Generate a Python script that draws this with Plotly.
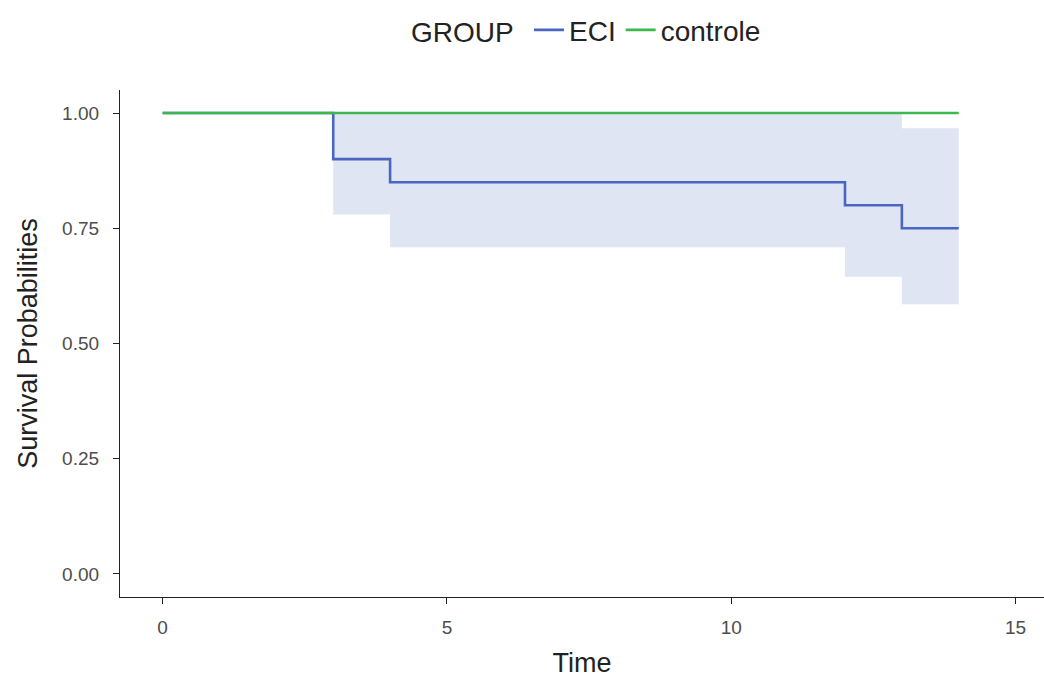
import plotly.graph_objects as go

# Data
time_eci = [0, 3, 4, 12, 13, 14]
surv_eci = [1.0, 0.90, 0.85, 0.80, 0.75, 0.75]
upper_eci = [1.0, 1.0, 1.0, 1.0, 0.967, 0.967]
lower_eci = [1.0, 0.780, 0.709, 0.645, 0.585, 0.585]

time_ctrl = [0, 14]
surv_ctrl = [1.0, 1.0]

x_ticks = [0, 5, 10, 15]
y_ticks = [0, 0.25, 0.5, 0.75, 1.0]

BLUE = "#4A66C3"
GREEN = "#3DB84F"
BAND = "rgba(90,115,190,0.19)"
FONT = "Liberation Sans"

fig = go.Figure()
fig.add_trace(go.Scatter(x=time_eci, y=upper_eci, mode="lines", line=dict(width=0, shape="hv"),
                         showlegend=False, hoverinfo="skip"))
fig.add_trace(go.Scatter(x=time_eci, y=lower_eci, mode="lines", line=dict(width=0, shape="hv"),
                         fill="tonexty", fillcolor=BAND, showlegend=False, hoverinfo="skip"))
fig.add_trace(go.Scatter(x=time_eci, y=surv_eci, mode="lines", name="ECI",
                         line=dict(color=BLUE, width=2.6, shape="hv")))
fig.add_trace(go.Scatter(x=time_ctrl, y=surv_ctrl, mode="lines", name="controle",
                         line=dict(color=GREEN, width=2.6, shape="hv")))

fig.update_layout(
    width=1044, height=678,
    margin=dict(l=120, r=0, t=90, b=81),
    paper_bgcolor="white", plot_bgcolor="white",
    font=dict(family=FONT, color="#222"),
    legend=dict(orientation="h", x=0.506, xanchor="center", y=1.118, yanchor="middle",
                traceorder="normal",
                title=dict(text="GROUP ", side="left", font=dict(size=28, color="#222")),
                font=dict(size=28, color="#222"), itemwidth=30),
    showlegend=True,
)
fig.update_xaxes(range=[-0.75, 15.5], tickvals=x_ticks, showline=True, linecolor="#222", linewidth=1.3,
                 ticks="outside", ticklen=6, tickcolor="#222", tickwidth=1.3, showgrid=False, zeroline=False,
                 tickfont=dict(size=19, color="#4D4D4D"), ticklabelstandoff=7,
                 title=dict(text="Time", font=dict(size=27, color="#222"), standoff=18))
fig.update_yaxes(range=[-0.05, 1.05], tickvals=y_ticks, tickformat=".2f", showline=True, linecolor="#222",
                 linewidth=1.3, ticks="outside", ticklen=6, tickcolor="#222", tickwidth=1.3, showgrid=False,
                 zeroline=False, tickfont=dict(size=19, color="#4D4D4D"), ticklabelstandoff=10,
                 title=dict(text="Survival Probabilities", font=dict(size=27, color="#222"), standoff=16))

fig.write_html("out.html")
